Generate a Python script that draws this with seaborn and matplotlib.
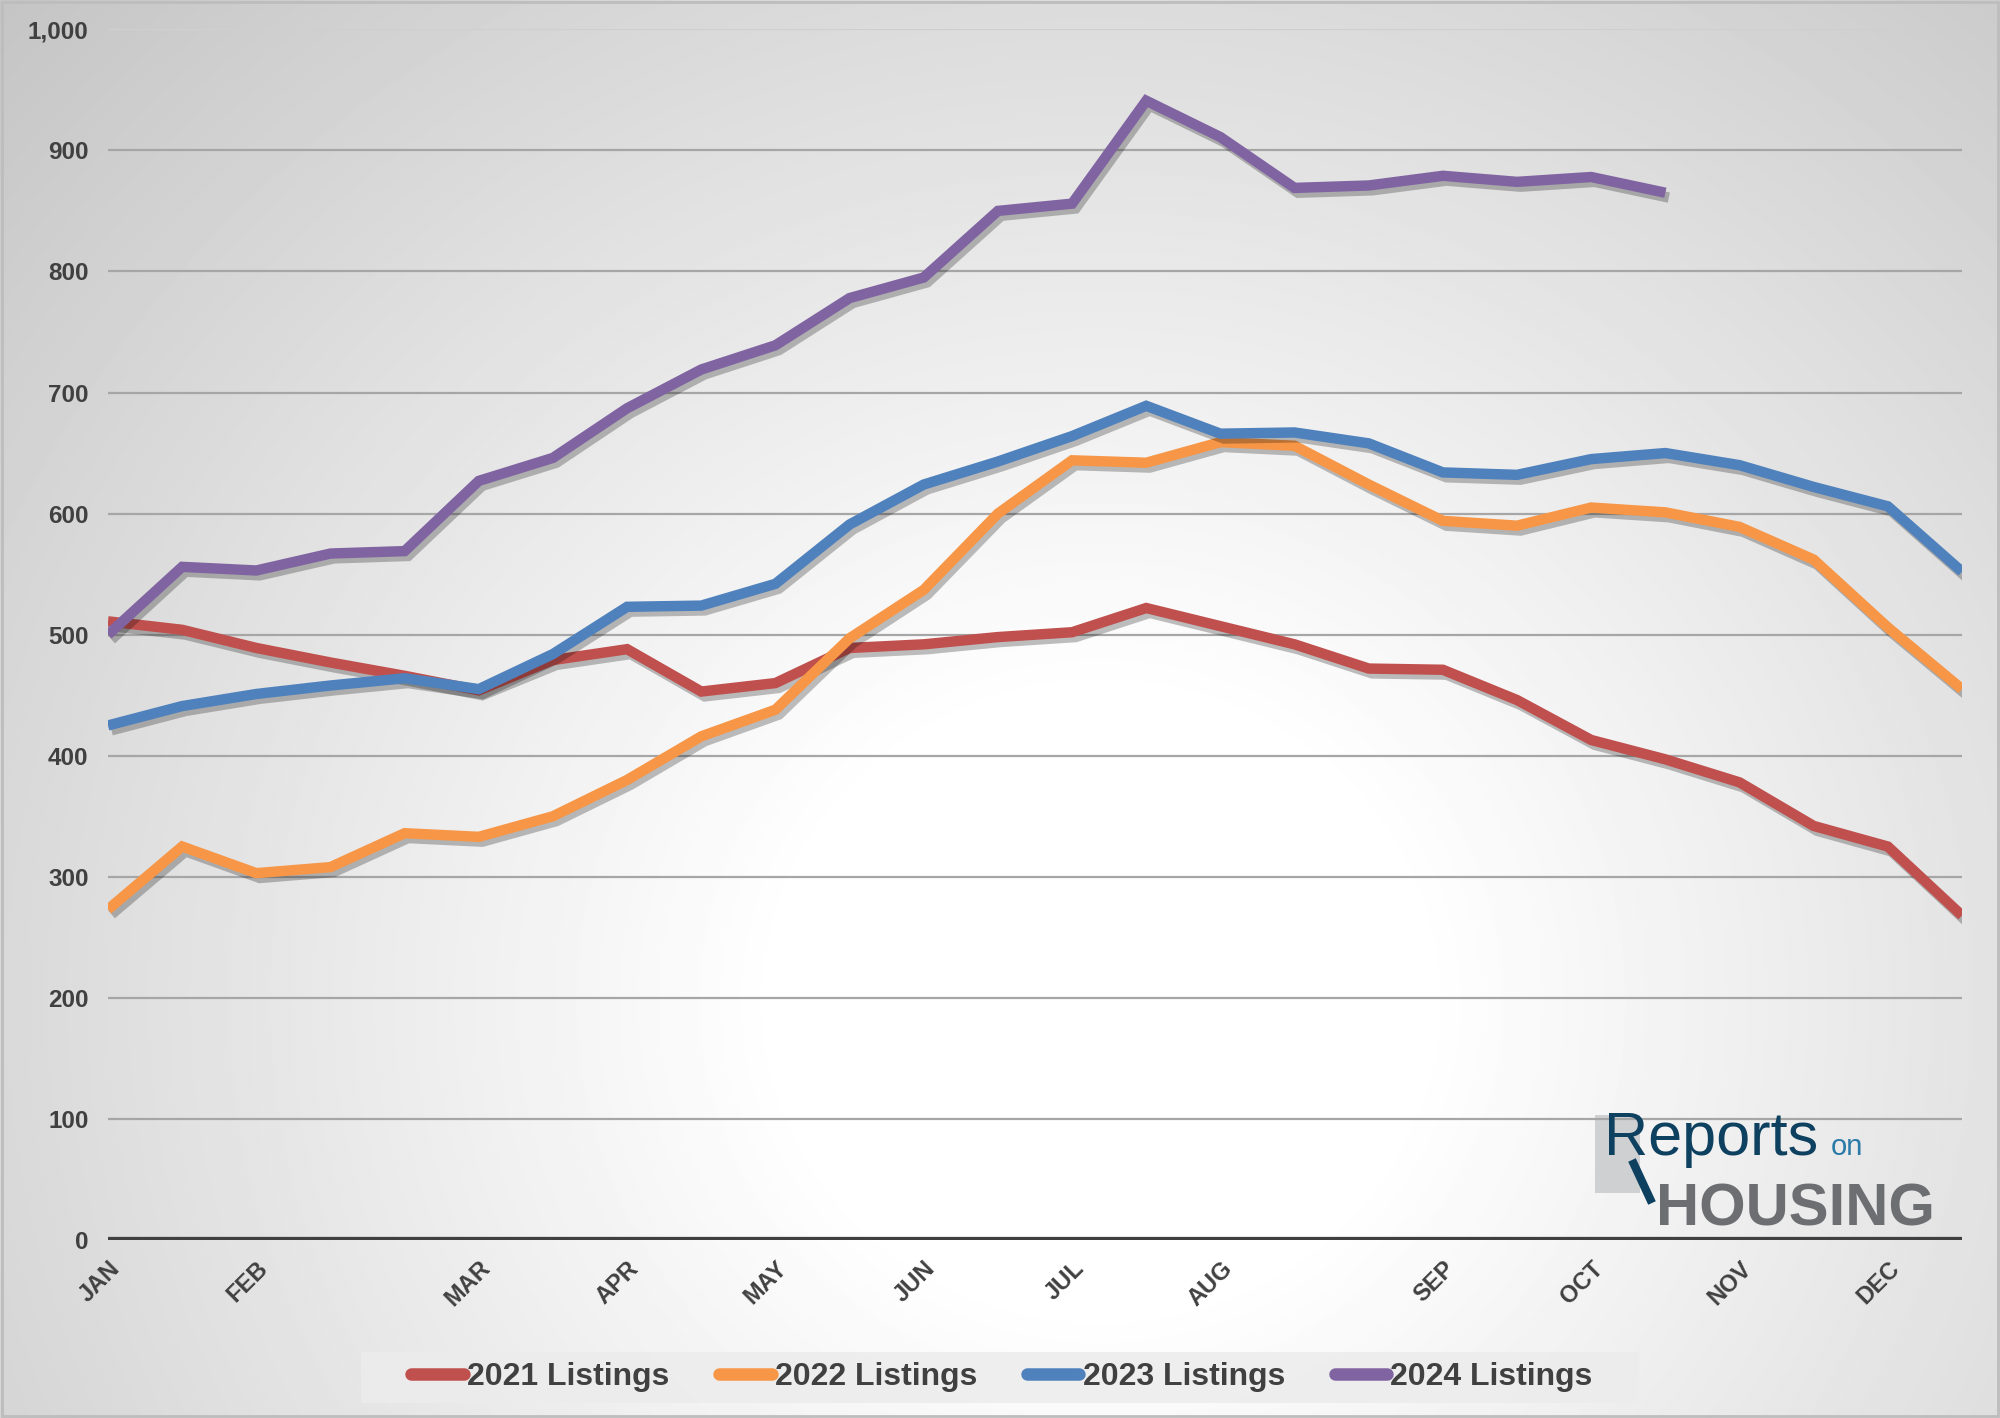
import numpy as np
import pandas as pd
import matplotlib
matplotlib.use("Agg")
import matplotlib.pyplot as plt
import matplotlib.patheffects as pe
from matplotlib.patches import Rectangle
from matplotlib.lines import Line2D
import seaborn as sns

# ---------------- data ----------------
weeks = list(range(26))
listings_2021 = [511, 504, 489, 477, 466, 454, 479, 488, 453, 460, 489, 492, 498, 502,
                 522, 507, 492, 472, 471, 446, 413, 397, 378, 342, 325, 268]
listings_2022 = [273, 325, 303, 308, 336, 333, 350, 380, 416, 438, 497, 537, 600, 644,
                 642, 659, 656, 624, 594, 590, 605, 601, 589, 562, 506, 455]
listings_2023 = [425, 441, 451, 458, 464, 455, 484, 523, 524, 542, 591, 624, 643, 664,
                 689, 666, 667, 658, 634, 632, 645, 650, 640, 622, 606, 552]
listings_2024 = [500, 556, 553, 567, 569, 627, 646, 687, 719, 739, 778, 795, 850, 856,
                 941, 911, 869, 871, 879, 874, 878, 865]
series_names = ["2021 Listings", "2022 Listings", "2023 Listings", "2024 Listings"]
series_colors = ["#C0504D", "#F79646", "#4F81BD", "#8064A2"]
month_labels = ["JAN", "FEB", "MAR", "APR", "MAY", "JUN", "JUL", "AUG", "SEP", "OCT", "NOV", "DEC"]
month_positions = [0, 2, 5, 7, 9, 11, 13, 15, 18, 20, 22, 24]
y_ticks = [0, 100, 200, 300, 400, 500, 600, 700, 800, 900, 1000]

rows = []
for name, vals in zip(series_names, [listings_2021, listings_2022, listings_2023, listings_2024]):
    for w, v in zip(weeks, vals):
        rows.append({"week": w, "listings": v, "series": name})
df = pd.DataFrame(rows)

# ---------------- figure ----------------
sns.set_theme(style="white")
plt.rcParams["font.family"] = ["Liberation Sans", "DejaVu Sans"]

W, H = 2000, 1418
fig = plt.figure(figsize=(W / 100, H / 100), dpi=100)

# radial gradient background
bg = fig.add_axes([0, 0, 1, 1], zorder=0)
yy, xx = np.mgrid[0:H:2, 0:W:2]
cx, cy = 1100, 1000
r = np.sqrt((xx - cx) ** 2 + ((yy - cy) / 0.95) ** 2)
val = np.clip(1.0 - np.clip(r - 320, 0, None) / 1150 * 0.22, 0.76, 1.0)
bg.imshow(val, cmap="gray", vmin=0, vmax=1, extent=[0, W, H, 0], aspect="auto", interpolation="bilinear")
bg.set_xlim(0, W)
bg.set_ylim(H, 0)
bg.axis("off")
bg.add_patch(Rectangle((2, 2), W - 4, H - 4, fill=False, edgecolor="#bdbdbd", lw=2))
# legend background band
bg.add_patch(Rectangle((361, 1352), 1278, 51, facecolor="#ececec", edgecolor="none", alpha=0.85))
# logo square
bg.add_patch(Rectangle((1595, 1115), 45, 78, facecolor="#cfd0d2", edgecolor="none"))
bg.plot([1632, 1652], [1160, 1203], color="#0e4060", lw=6, solid_capstyle="butt")

ax = fig.add_axes([108 / W, 1 - 1240 / H, (1962 - 108) / W, (1240 - 29.3) / H], zorder=1)
ax.set_facecolor("none")

sns.lineplot(data=df, x="week", y="listings", hue="series", hue_order=series_names,
             palette=series_colors, linewidth=7.5, ax=ax, legend=False, sort=False)
for ln in ax.lines:
    ln.set_solid_capstyle("butt")
    ln.set_solid_joinstyle("miter")
    ln.set_path_effects([pe.SimpleLineShadow(offset=(2.5, -3.5), shadow_color="#000000", alpha=0.25),
                         pe.Normal()])

ax.set_xlim(0, 25)
ax.set_ylim(0, 1000)
ax.set_yticks(y_ticks)
ax.set_yticklabels([f"{v:,}" for v in y_ticks], fontsize=17.5, fontweight="bold", color="#404040")
ax.set_xticks(month_positions)
ax.set_xticklabels(month_labels, rotation=45, ha="right", va="top", rotation_mode="anchor",
                   fontsize=17, fontweight="bold", color="#404040")
ax.tick_params(axis="y", length=0, pad=14)
ax.tick_params(axis="x", length=0, pad=12)
ax.set_xlabel("")
ax.set_ylabel("")
for s in ax.spines.values():
    s.set_visible(False)
for v in y_ticks[1:]:
    ax.axhline(v, color="#a6a6a6" if v < 1000 else "#cfcfcf", lw=1.6, zorder=0.5)
ax.axhline(0, color="#404040", lw=4.5, zorder=0.6)

# legend
handles = [Line2D([0], [0], color=c, lw=9, solid_capstyle="round") for c in series_colors]
leg = fig.legend(handles, series_names, loc="center", bbox_to_anchor=(1002 / W, 1 - 1377 / H),
                 ncol=4, frameon=False, handlelength=1.65, handletextpad=0.1,
                 columnspacing=1.55, borderpad=0.3,
                 prop={"family": ["Liberation Sans"], "weight": "bold", "size": 23})
for t in leg.get_texts():
    t.set_color("#404040")

# logo text
fig.text(1604 / W, 1 - 1155 / H, "Reports", fontsize=44, color="#0e4060",
         ha="left", va="baseline", zorder=3)
fig.text(1831 / W, 1 - 1155 / H, "on", fontsize=21, color="#2a7aa8",
         ha="left", va="baseline", zorder=3)
fig.text(1656 / W, 1 - 1225 / H, "HOUSING", fontsize=43, color="#6d6e71", fontweight="bold",
         ha="left", va="baseline", zorder=3)

fig.savefig("out.png", dpi=100)
